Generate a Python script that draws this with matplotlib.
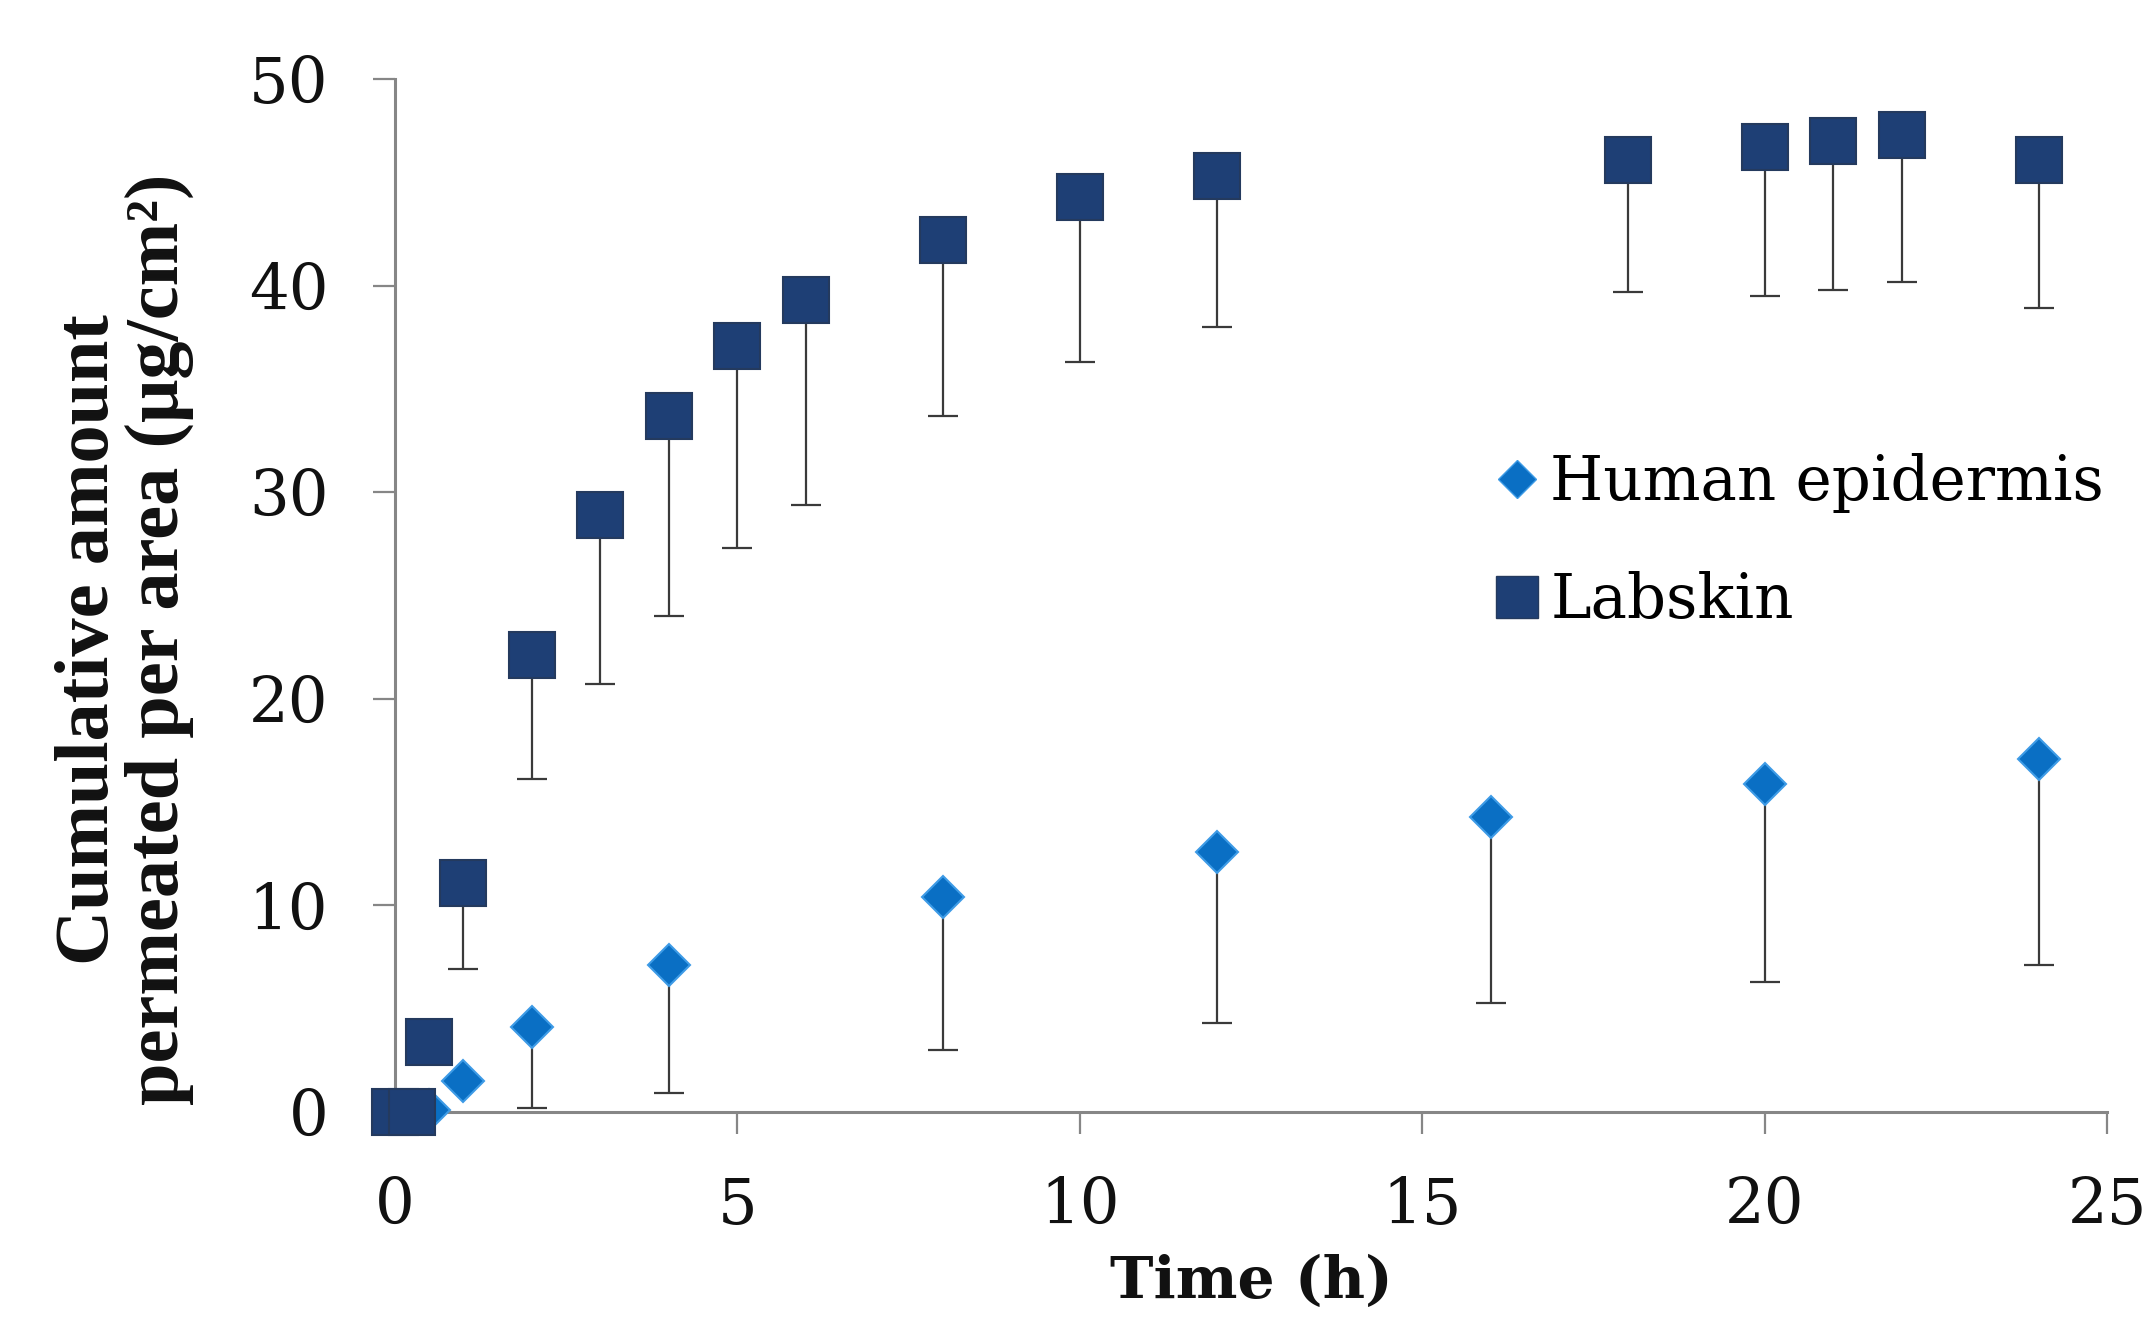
import matplotlib
matplotlib.use("Agg")
import matplotlib.pyplot as plt
from matplotlib.lines import Line2D

# ---- data ----
labskin_t = [0, 0.25, 0.5, 1, 2, 3, 4, 5, 6, 8, 10, 12, 18, 20, 21, 22, 24]
labskin_mean = [0.0, 0.0, 3.4, 11.1, 22.1, 28.9, 33.7, 37.1, 39.3, 42.2, 44.3, 45.3, 46.1, 46.7, 47.0, 47.3, 46.1]
labskin_lower = [0.0, 0.0, 3.4, 6.9, 16.1, 20.7, 24.0, 27.3, 29.4, 33.7, 36.3, 38.0, 39.7, 39.5, 39.8, 40.2, 38.9]

human_t = [0, 0.25, 0.5, 1, 2, 4, 8, 12, 16, 20, 24]
human_mean = [0.0, 0.0, 0.1, 1.5, 4.1, 7.1, 10.4, 12.6, 14.3, 15.9, 17.1]
human_lower = [0.0, 0.0, 0.1, 1.5, 0.2, 0.9, 3.0, 4.3, 5.3, 6.3, 7.1]

x_ticks = [0, 5, 10, 15, 20, 25]
y_ticks = [0, 10, 20, 30, 40, 50]
series_names = ["Human epidermis", "Labskin"]

human_err = [m - l for m, l in zip(human_mean, human_lower)]
labskin_err = [m - l for m, l in zip(labskin_mean, labskin_lower)]

# ---- style ----
SERIF = "DejaVu Serif"
HUMAN_COLOR = "#0A6FC4"
HUMAN_EDGE = "#3E9BE6"
LAB_COLOR = "#1E3F75"
LAB_EDGE = "#243A5E"
ERR_COLOR = "#3A3A3A"
AXIS_COLOR = "#868686"

fig = plt.figure(figsize=(21.49, 13.24), dpi=100)
ax = fig.add_axes([0.1838, 0.1601, 0.9805 - 0.1838, 0.9403 - 0.1601])

# error bars (minus only)
ax.errorbar(human_t, human_mean, yerr=[human_err, [0] * len(human_err)],
            fmt="none", ecolor=ERR_COLOR, elinewidth=1.6, capsize=11,
            capthick=1.6, zorder=2)
ax.errorbar(labskin_t, labskin_mean, yerr=[labskin_err, [0] * len(labskin_err)],
            fmt="none", ecolor=ERR_COLOR, elinewidth=1.6, capsize=11,
            capthick=1.6, zorder=2)

ax.plot(human_t, human_mean, linestyle="none", marker="D", markersize=21,
        markerfacecolor=HUMAN_COLOR, markeredgecolor=HUMAN_EDGE,
        markeredgewidth=1.5, zorder=3, clip_on=False)
ax.plot(labskin_t, labskin_mean, linestyle="none", marker="s", markersize=33,
        markerfacecolor=LAB_COLOR, markeredgecolor=LAB_EDGE,
        markeredgewidth=1.5, zorder=4, clip_on=False)

ax.set_xlim(0, 25)
ax.set_ylim(0, 50)
ax.set_xticks(x_ticks)
ax.set_yticks(y_ticks)

for s in ["top", "right"]:
    ax.spines[s].set_visible(False)
for s in ["left", "bottom"]:
    ax.spines[s].set_color(AXIS_COLOR)
    ax.spines[s].set_linewidth(2.2)

ax.tick_params(axis="both", direction="out", length=16, width=1.6,
               color=AXIS_COLOR, labelsize=45, labelcolor="#111111")
ax.tick_params(axis="x", pad=30)
ax.tick_params(axis="y", pad=32)
for lab in ax.get_xticklabels() + ax.get_yticklabels():
    lab.set_family(SERIF)

ax.set_xlabel("Time (h)", fontsize=42, fontweight="bold", family=SERIF,
              labelpad=12, color="#111111")

fig.text(0.058, 0.517, "Cumulative amount\npermeated per area (\u03bcg/cm\u00b2)",
         rotation=90, ha="center", va="center", fontsize=55,
         fontweight="bold", family=["Liberation Serif", "DejaVu Serif"],
         linespacing=1.02, color="#111111")

handles = [
    Line2D([], [], linestyle="none", marker="D", markersize=19,
           markerfacecolor=HUMAN_COLOR, markeredgecolor=HUMAN_EDGE),
    Line2D([], [], linestyle="none", marker="s", markersize=30,
           markerfacecolor=LAB_COLOR, markeredgecolor=LAB_EDGE),
]
leg = fig.legend(handles, series_names, loc="upper left",
                 bbox_to_anchor=(0.683, 0.676), frameon=False,
                 prop={"family": SERIF, "size": 44},
                 handlelength=0.8, handletextpad=0.15, labelspacing=0.95,
                 borderaxespad=0)

fig.savefig("out.png", dpi=100, facecolor="white")
